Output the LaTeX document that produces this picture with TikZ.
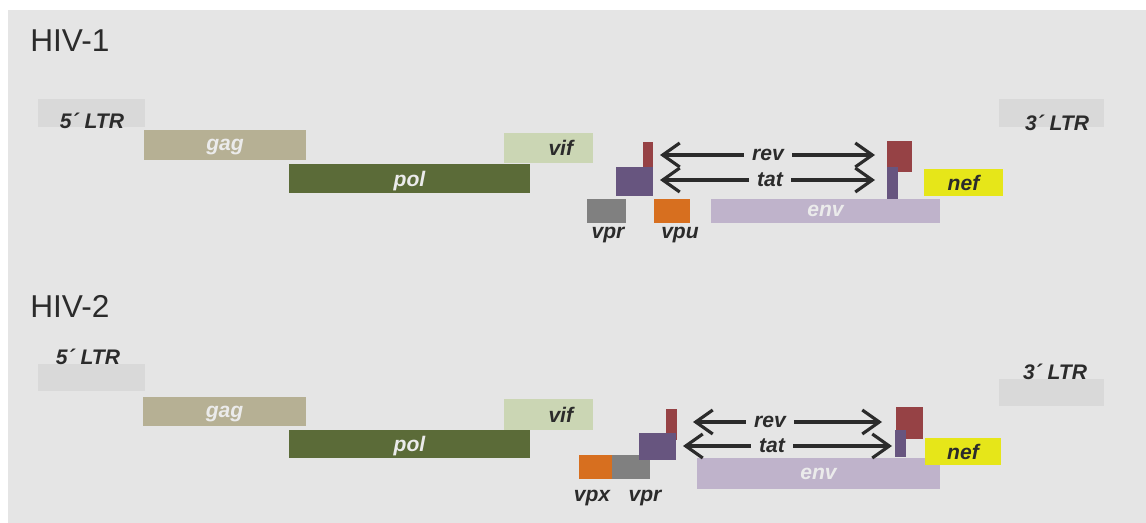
\documentclass[tikz,border=0pt]{standalone}
\usepackage{fontspec}
\setmainfont{Liberation Sans}
\usepackage{xcolor}
\usetikzlibrary{arrows.meta}

\definecolor{bggray}{HTML}{E5E5E5}
\definecolor{ltrc}{HTML}{D9D9D9}
\definecolor{gagc}{HTML}{B6B094}
\definecolor{polc}{HTML}{5B6B38}
\definecolor{vifc}{HTML}{CBD6B4}
\definecolor{revc}{HTML}{964245}
\definecolor{tatc}{HTML}{67557F}
\definecolor{vprc}{HTML}{808080}
\definecolor{vpuc}{HTML}{D76F1F}
\definecolor{envc}{HTML}{BFB3CB}
\definecolor{nefc}{HTML}{E6E619}
\definecolor{darklab}{HTML}{2B2B2B}
\definecolor{lightlab}{HTML}{EBEBEB}

\tikzset{
  wd/.style={minimum width=#1*0.02cm},
  ht/.style={minimum height=#1*0.02cm},
  gene/.style={anchor=north west, inner sep=0pt, outer sep=0pt, text=darklab, text depth=0pt,
    font=\fontsize{12}{14}\selectfont\bfseries\itshape},
  lab/.style={inner sep=0pt, text=darklab, font=\fontsize{12}{14}\selectfont\bfseries\itshape},
  title/.style={anchor=base west, inner sep=0pt, text=darklab, font=\fontsize{18}{20}\selectfont},
  mid/.style={inner sep=0pt, inner xsep=4.5pt, text=darklab, font=\fontsize{12}{14}\selectfont\bfseries\itshape},
  arr/.style={-{Straight Barb[length=0.34cm,width=0.48cm]}, line width=1.8pt, draw=darklab}
}

\begin{document}
\begin{tikzpicture}[x=0.02cm, y=-0.02cm]

	\useasboundingbox (0,0) rectangle (1146,523);
	\fill[white] (0,0) rectangle (1146,523);
	\fill[bggray] (8,10) rectangle (1146,523);

	% HIV-1
	\node[title] (hiv1) at (30,52) {HIV-1};

	\node[gene, fill=ltrc, wd=107, ht=28] (ltrA1) at (38,99) {};
	\node[lab] (ltrA1l) at (92,121) {5´ LTR};
	\node[gene, fill=gagc, text=lightlab, wd=162, ht=30] (gag1) at (144,130) {gag};
	\node[gene, fill=polc, text=lightlab, wd=241, ht=29] (pol1) at (289,164) {pol};
	\node[gene, fill=vifc, wd=89, ht=30] (vif1) at (504,133) {\hspace{14pt}vif};
	\node[gene, fill=revc, wd=10, ht=25] (revA1) at (643,142) {};
	\node[gene, fill=tatc, wd=37, ht=29] (tatA1) at (616,167) {};
	\node[gene, fill=vprc, wd=39, ht=24] (vpr1) at (587,199) {};
	\node[lab] (vpr1l) at (608,235) {vpr};
	\node[gene, fill=vpuc, wd=36, ht=24] (vpu1) at (654,199) {};
	\node[lab] (vpu1l) at (680,235) {vpu};
	\node[gene, fill=envc, text=lightlab, wd=229, ht=24] (env1) at (711,199) {env};
	\node[gene, fill=revc, wd=25, ht=31] (revB1) at (887,141) {};
	\node[gene, fill=tatc, wd=11, ht=32] (tatB1) at (887,167) {};
	\node[gene, fill=nefc, wd=79, ht=27] (nef1) at (924,169) {nef};
	\node[gene, fill=ltrc, wd=105, ht=28] (ltrB1) at (999,99) {};
	\node[lab] (ltrB1l) at (1057,123) {3´ LTR};

	\node[mid] (rev1) at (768,155) {rev};
	\node[mid] (tat1) at (770,180) {tat};
	\coordinate (rev1L) at (660,155);
	\coordinate (rev1R) at (875,155);
	\coordinate (tat1L) at (660,180);
	\coordinate (tat1R) at (875,180);
	\draw[arr] (rev1) -- (rev1L);
	\draw[arr] (rev1) -- (rev1R);
	\draw[arr] (tat1) -- (tat1L);
	\draw[arr] (tat1) -- (tat1R);

	% HIV-2
	\node[title] (hiv2) at (30,318) {HIV-2};

	\node[gene, fill=ltrc, wd=107, ht=27] (ltrA2) at (38,364) {};
	\node[lab] (ltrA2l) at (88,357) {5´ LTR};
	\node[gene, fill=gagc, text=lightlab, wd=163, ht=29] (gag2) at (143,397) {gag};
	\node[gene, fill=polc, text=lightlab, wd=241, ht=28] (pol2) at (289,430) {pol};
	\node[gene, fill=vifc, wd=89, ht=31] (vif2) at (504,399) {\hspace{14pt}vif};
	\node[gene, fill=revc, wd=11, ht=31] (revA2) at (666,409) {};
	\node[gene, fill=vpuc, wd=33, ht=24] (vpx2) at (579,455) {};
	\node[lab] (vpx2l) at (592,498) {vpx};
	\node[gene, fill=vprc, wd=38, ht=24] (vpr2) at (612,455) {};
	\node[lab] (vpr2l) at (645,498) {vpr};
	\node[gene, fill=tatc, wd=37, ht=27] (tatA2) at (639,433) {};
	\node[gene, fill=envc, text=lightlab, wd=243, ht=31] (env2) at (697,458) {env};
	\node[gene, fill=revc, wd=27, ht=32] (revB2) at (896,407) {};
	\node[gene, fill=tatc, wd=11, ht=27] (tatB2) at (895,430) {};
	\node[gene, fill=nefc, wd=76, ht=27] (nef2) at (925,438) {nef};
	\node[gene, fill=ltrc, wd=105, ht=27] (ltrB2) at (999,379) {};
	\node[lab] (ltrB2l) at (1055,372) {3´ LTR};

	\node[mid] (rev2) at (770,422) {rev};
	\node[mid] (tat2) at (772,446) {tat};
	\coordinate (rev2L) at (693,422);
	\coordinate (rev2R) at (882,422);
	\coordinate (tat2L) at (683,446);
	\coordinate (tat2R) at (892,446);
	\draw[arr] (rev2) -- (rev2L);
	\draw[arr] (rev2) -- (rev2R);
	\draw[arr] (tat2) -- (tat2L);
	\draw[arr] (tat2) -- (tat2R);
\end{tikzpicture}
\end{document}
